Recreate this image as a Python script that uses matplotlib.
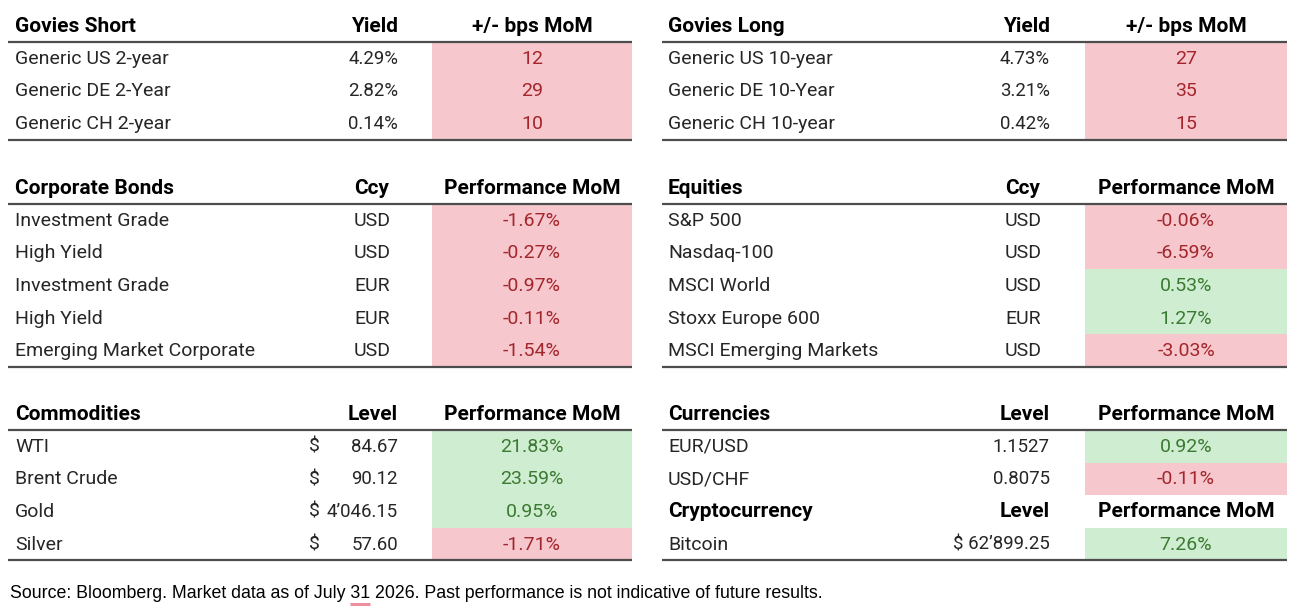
import matplotlib
matplotlib.use("Agg")
import matplotlib.pyplot as plt
from matplotlib.patches import Rectangle

# ---- data ----
govies_short_names = ["Generic US 2-year", "Generic DE 2-Year", "Generic CH 2-year"]
govies_short_yield = ["4.29%", "2.82%", "0.14%"]
govies_short_bps = [12, 29, 10]

govies_long_names = ["Generic US 10-year", "Generic DE 10-Year", "Generic CH 10-year"]
govies_long_yield = ["4.73%", "3.21%", "0.42%"]
govies_long_bps = [27, 35, 15]

corp_names = ["Investment Grade", "High Yield", "Investment Grade", "High Yield",
              "Emerging Market Corporate"]
corp_ccy = ["USD", "USD", "EUR", "EUR", "USD"]
corp_perf = [-1.67, -0.27, -0.97, -0.11, -1.54]

eq_names = ["S&P 500", "Nasdaq-100", "MSCI World", "Stoxx Europe 600", "MSCI Emerging Markets"]
eq_ccy = ["USD", "USD", "USD", "EUR", "USD"]
eq_perf = [-0.06, -6.59, 0.53, 1.27, -3.03]

comm_names = ["WTI", "Brent Crude", "Gold", "Silver"]
comm_level = ["84.67", "90.12", "4\u2019046.15", "57.60"]
comm_perf = [21.83, 23.59, 0.95, -1.71]

fx_names = ["EUR/USD", "USD/CHF"]
fx_level = ["1.1527", "0.8075"]
fx_perf = [0.92, -0.11]

crypto_names = ["Bitcoin"]
crypto_level = ["$ 62\u2019899.25"]
crypto_perf = [7.26]

source_text = ("Source: Bloomberg. Market data as of July 31 2026. "
               "Past performance is not indicative of future results.")

# ---- style ----
FONT = "Roboto"
HEAD_FS = 15.0
BODY_FS = 14.0
NUM_FS = 13.4   # digits in Roboto run wider than the original font
SRC_FS = 12.8
RED_FILL, RED_TXT = "#F6C7CD", "#A3262C"
GREEN_FILL, GREEN_TXT = "#CFEDD0", "#3B7A32"
BODY = "#262626"
RULE = "#4d4d4d"
ROW_H = 32.6

fig = plt.figure(figsize=(13, 6.15), dpi=100)
ax = fig.add_axes([0, 0, 1, 1])
ax.set_xlim(0, 1300)
ax.set_ylim(615, 0)
ax.axis("off")

LEFT = dict(x0=8, x1=632, label=15, mid_center=372, mid_right=398, dollar=309,
            c0=432, c1=632)
RIGHT = dict(x0=662, x1=1287, label=668, mid_center=1023, mid_right=1050, dollar=None,
             c0=1085, c1=1287)


def header(cols, y, titles, mid_align):
    ax.text(cols["label"], y, titles[0], fontsize=HEAD_FS, fontweight="bold",
            family=FONT, va="center", ha="left", color="black")
    if mid_align == "center":
        ax.text(cols["mid_center"], y, titles[1], fontsize=HEAD_FS, fontweight="bold",
                family=FONT, va="center", ha="center", color="black")
    else:
        ax.text(cols["mid_right"], y, titles[1], fontsize=HEAD_FS, fontweight="bold",
                family=FONT, va="center", ha="right", color="black")
    ax.text((cols["c0"] + cols["c1"]) / 2, y, titles[2], fontsize=HEAD_FS,
            fontweight="bold", family=FONT, va="center", ha="center", color="black")


def rule(cols, y):
    ax.plot([cols["x0"], cols["x1"]], [y, y], color=RULE, lw=1.6,
            solid_capstyle="butt")


def body_row(cols, top, name, mid, val, fmt, mid_align, dollar=False, up_bad=False):
    yc = top + ROW_H / 2 + 0.5
    ax.text(cols["label"], yc, name, fontsize=BODY_FS, family=FONT, va="center",
            ha="left", color=BODY)
    if mid_align == "center":
        ax.text(cols["mid_center"], yc, mid, fontsize=BODY_FS, family=FONT,
                va="center", ha="center", color=BODY)
    else:
        ax.text(cols["mid_right"], yc, mid, fontsize=NUM_FS, family=FONT,
                va="center", ha="right", color=BODY)
    if dollar:
        ax.text(cols["dollar"], yc, "$", fontsize=BODY_FS, family=FONT,
                va="center", ha="left", color=BODY)
    good = (val < 0) if up_bad else (val > 0)
    fill = GREEN_FILL if good else RED_FILL
    tcol = GREEN_TXT if good else RED_TXT
    ax.add_patch(Rectangle((cols["c0"], top), cols["c1"] - cols["c0"], ROW_H,
                           facecolor=fill, edgecolor="none", zorder=0))
    ax.text((cols["c0"] + cols["c1"]) / 2, yc, fmt(val), fontsize=BODY_FS,
            family=FONT, va="center", ha="center", color=tcol)


def table(cols, y_head, y_rule, titles, names, mids, vals, fmt, mid_align,
          dollar=False, up_bad=False):
    header(cols, y_head, titles, mid_align)
    rule(cols, y_rule)
    for i, (n, m, v) in enumerate(zip(names, mids, vals)):
        body_row(cols, y_rule + i * ROW_H, n, m, v, fmt, mid_align, dollar, up_bad)
    return y_rule + len(names) * ROW_H


bps = lambda v: f"{v:d}"
pct = lambda v: f"{v:.2f}%"

# yields rising = bad for bond holders, so positive bps are shown red
end = table(LEFT, 27, 42, ["Govies Short", "Yield", "+/- bps MoM"],
            govies_short_names, govies_short_yield, govies_short_bps, bps, "right",
            up_bad=True)
rule(LEFT, end)
end = table(RIGHT, 27, 42, ["Govies Long", "Yield", "+/- bps MoM"],
            govies_long_names, govies_long_yield, govies_long_bps, bps, "right",
            up_bad=True)
rule(RIGHT, end)

end = table(LEFT, 188, 204, ["Corporate Bonds", "Ccy", "Performance MoM"],
            corp_names, corp_ccy, corp_perf, pct, "center")
rule(LEFT, end)
end = table(RIGHT, 188, 204, ["Equities", "Ccy", "Performance MoM"],
            eq_names, eq_ccy, eq_perf, pct, "center")
rule(RIGHT, end)

end = table(LEFT, 414, 430, ["Commodities", "Level", "Performance MoM"],
            comm_names, comm_level, comm_perf, pct, "right", dollar=True)
rule(LEFT, end)
end = table(RIGHT, 414, 430, ["Currencies", "Level", "Performance MoM"],
            fx_names, fx_level, fx_perf, pct, "right")
# cryptocurrency block sits directly under currencies, no rule between
header(RIGHT, end + ROW_H / 2, ["Cryptocurrency", "Level", "Performance MoM"], "right")
top = end + ROW_H
for i, (n, m, v) in enumerate(zip(crypto_names, crypto_level, crypto_perf)):
    body_row(RIGHT, top + i * ROW_H, n, m, v, pct, "right")
rule(RIGHT, top + len(crypto_names) * ROW_H)

# source line with the pink underline under "31"
ax.text(10, 593, source_text, fontsize=SRC_FS, family="Liberation Sans",
        va="center", ha="left", color="black")
fig.canvas.draw()
renderer = fig.canvas.get_renderer()
prefix = source_text[:source_text.index("31")]
tmp = ax.text(10, 593, prefix, fontsize=SRC_FS, family="Liberation Sans",
              va="center", ha="left", alpha=0)
tmp2 = ax.text(10, 593, prefix + "31", fontsize=SRC_FS, family="Liberation Sans",
               va="center", ha="left", alpha=0)
inv = ax.transData.inverted()
xa = inv.transform((tmp.get_window_extent(renderer).x1, 0))[0]
xb = inv.transform((tmp2.get_window_extent(renderer).x1, 0))[0]
ax.plot([xa, xb], [604, 604], color="#EE8FA0", lw=2.2, solid_capstyle="butt")

fig.savefig("out.png", dpi=100)
